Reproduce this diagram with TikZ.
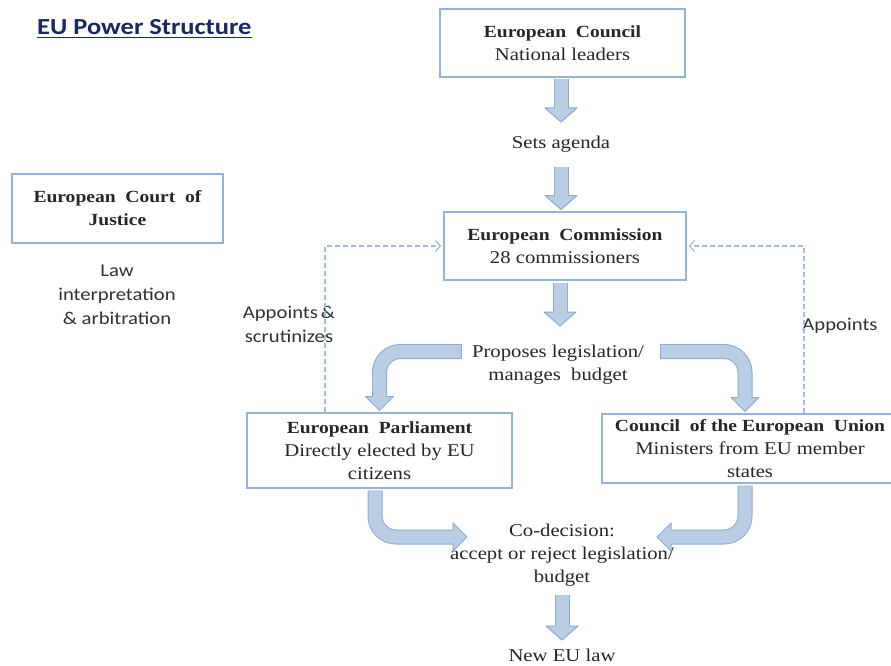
\documentclass[tikz,border=0pt]{standalone}
\usepackage{fontspec}
\setmainfont{Liberation Serif}[FakeStretch=1.15]
\newfontfamily\calfont{Carlito}[FakeStretch=1.15]
\usetikzlibrary{arrows.meta}
\definecolor{boxline}{RGB}{149,179,215}
\definecolor{arrowfill}{RGB}{185,205,229}
\definecolor{arrowborder}{RGB}{140,170,210}
\definecolor{dashcol}{RGB}{160,188,222}
\definecolor{txtcol}{RGB}{38,38,38}
\definecolor{calcol}{RGB}{50,50,50}
\definecolor{titlecol}{RGB}{25,40,100}
\newcommand\boldline[1]{{\fontsize{17}{23}\selectfont\bfseries #1}}
\newcommand\ahead[3]{%
  \begin{scope}[shift={#1},rotate=#2]
    \fill[arrowfill] (-#3,-14) -- (0,0) -- (#3,-14) -- cycle;
    \draw[arrowline] (-7,-14) -- (-#3,-14) -- (0,0) -- (#3,-14) -- (7,-14);
  \end{scope}}
\tikzset{
  boxnode/.style={draw=boxline, line width=2.5pt, fill=white, align=center, inner sep=0pt,
    text=txtcol, font=\fontsize{18}{23}\selectfont},
  serifnote/.style={align=center, inner sep=0pt, text=txtcol, font=\fontsize{18}{23}\selectfont},
  calnote/.style={align=center, inner sep=0pt, text=calcol, font=\calfont\fontsize{18}{24}\selectfont},
  shaftst/.style={line width=1pt, draw=arrowborder, double=arrowfill, double distance=13pt, rounded corners=21pt},
  arrowline/.style={draw=arrowborder, line width=1pt, line join=round},
  dashconn/.style={draw=dashcol, line width=1.2pt, dash pattern=on 5pt off 3pt,
    -{Straight Barb[length=5pt,width=11pt]}},
}
\begin{document}
\begin{tikzpicture}[x=1pt,y=-1pt]
\path[use as bounding box] (0,0) rectangle (891,666);
\clip (0,0) rectangle (891,666);
\fill[white] (0,0) rectangle (891,666);

% title
\node[anchor=base west, inner sep=0pt, text=titlecol,
  font=\calfont\fontsize{23}{26}\selectfont\bfseries] (title) at (37,34.5) {EU Power Structure};
\draw[titlecol, line width=1.8pt] ([yshift=-3pt]title.base west) -- ([yshift=-3pt]title.base east);

% boxes
\node[boxnode, minimum width=245pt, minimum height=68pt] (ecouncil) at (562.5,43)
  {\boldline{European~~Council}\\National leaders};
\node[boxnode, minimum width=242pt, minimum height=68pt] (ecomm) at (565,246)
  {\boldline{European~~Commission}\\28 commissioners};
\node[boxnode, minimum width=211pt, minimum height=69pt] (court) at (117.5,208.5)
  {\boldline{European~~Court~~of}\\\boldline{Justice}};
\node[boxnode, minimum width=265pt, minimum height=75pt] (ep) at (379.5,450.5)
  {\boldline{European~~Parliament}\\Directly elected by EU\\citizens};
\node[boxnode, minimum width=296pt, minimum height=69pt] (cu) at (750,448.5)
  {\boldline{Council~~of the European~~Union}\\Ministers from EU member\\states};

% free texts
\node[serifnote] (agenda) at (561,144) {Sets agenda};
\node[serifnote] (prop) at (558,364.5) {Proposes legislation/\\manages~~budget};
\node[serifnote] (codec) at (562,555.5) {Co-decision:\\accept or reject legislation/\\budget};
\node[serifnote] (newlaw) at (562,655) {New EU law};
\node[calnote] (lawtxt) at (117,295) {Law\\interpretation\\\& arbitration};
\node[calnote] (appsc) at (289,324.5) {Appoints\,\&\\scrutinizes};
\node[calnote] (appts) at (840,326) {Appoints};

% dashed connectors
\coordinate (dl) at ([xshift=-54.5pt]ep.north);
\coordinate (dr) at ([xshift=54pt]cu.north);
\draw[dashconn] (dl) |- ([xshift=-1.5pt]ecomm.west);
\draw[dashconn] (dr) |- ([xshift=1.5pt]ecomm.east);

% straight block arrows
\coordinate (t1) at (561,122);
\draw[shaftst] ([xshift=-1.5pt,yshift=-1.25pt]ecouncil.south) -- ([yshift=13pt]t1);
\ahead{(t1)}{0}{16}
\coordinate (a2s) at (561,167);
\coordinate (t2) at ([xshift=-4pt,yshift=1.25pt]ecomm.north);
\draw[shaftst] (a2s) -- ([yshift=13pt]t2);
\ahead{(t2)}{0}{16}
\coordinate (t3) at (560,326);
\draw[shaftst] ([xshift=-5pt,yshift=-1.25pt]ecomm.south) -- ([yshift=13pt]t3);
\ahead{(t3)}{0}{16}
\coordinate (a4s) at (562,595);
\coordinate (t4) at (562,640);
\draw[shaftst] (a4s) -- ([yshift=13pt]t4);
\ahead{(t4)}{0}{16}

% curved block arrows
\coordinate (c1s) at (461,351.5);
\coordinate (t5) at ([yshift=1.25pt]ep.north);
\draw[shaftst] (c1s) -| ([yshift=13pt]t5);
\draw[arrowline] ([yshift=7.5pt]c1s) -- ([yshift=-7.5pt]c1s);
\ahead{(t5)}{0}{14}

\coordinate (c2s) at (660,351.5);
\coordinate (t6) at ([xshift=-5pt,yshift=1.25pt]cu.north);
\draw[shaftst] (c2s) -| ([yshift=13pt]t6);
\draw[arrowline] ([yshift=7.5pt]c2s) -- ([yshift=-7.5pt]c2s);
\ahead{(t6)}{0}{14}

\coordinate (t7) at (467,537);
\draw[shaftst] ([xshift=-4.5pt,yshift=-1.25pt]ep.south) |- ([xshift=-13pt]t7);
\ahead{(t7)}{90}{14}

\coordinate (t8) at (657,537);
\draw[shaftst] ([xshift=-5pt,yshift=-1.25pt]cu.south) |- ([xshift=13pt]t8);
\ahead{(t8)}{-90}{14}
\end{tikzpicture}
\end{document}
